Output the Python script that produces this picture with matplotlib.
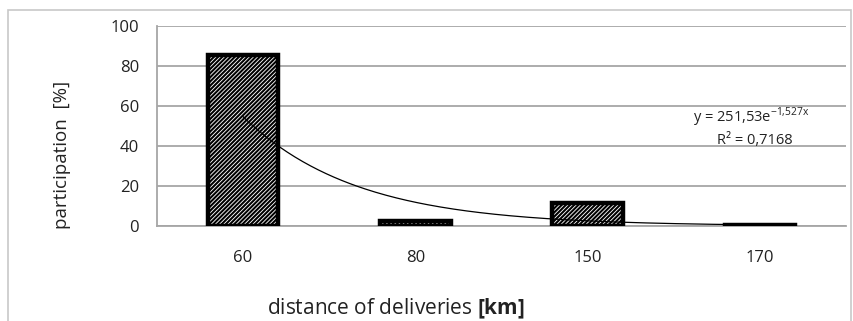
import numpy as np
import matplotlib
matplotlib.use("Agg")
import matplotlib.pyplot as plt
from matplotlib.patches import Rectangle

plt.rcParams['font.family'] = ['Open Sans', 'DejaVu Sans']
plt.rcParams['mathtext.fontset'] = 'custom'
plt.rcParams['mathtext.rm'] = 'Open Sans'
plt.rcParams['mathtext.bf'] = 'Open Sans:bold'
plt.rcParams['hatch.linewidth'] = 1.5

# data
distances = ["60", "80", "150", "170"]
participation = [85.5, 2.5, 11.5, 0.5]
# exponential trend line as printed on the chart
trend_a = 251.53
trend_b = -1.527
trend_eq = "y = 251,53e$^{\\mathregular{-1{,}527x}}$"
trend_r2 = "R² = 0,7168"

fig = plt.figure(figsize=(8.54, 3.21), dpi=100)
fig.patches.append(Rectangle((8 / 854, -0.05), 843 / 854, 1.05 - 10 / 321,
                             transform=fig.transFigure, fill=False,
                             edgecolor="#c8c8c8", linewidth=1.2))

ax = fig.add_axes([157 / 854, 1 - 226 / 321, 689 / 854, 200 / 321])
x = np.arange(len(distances))
ax.bar(x, participation, width=0.41, color="white", edgecolor="black",
       linewidth=3.2, hatch="////////", zorder=3)

xs = np.linspace(1, len(distances), 200)
ax.plot(xs - 1, trend_a * np.exp(trend_b * xs), color="black", linewidth=0.9, zorder=4)

ax.set_xlim(-0.5, len(distances) - 0.5)
ax.set_ylim(0, 100)
ax.set_yticks(range(0, 101, 20))
ax.set_xticks(x)
ax.set_xticklabels(distances)
ax.yaxis.grid(True, color="#a6a6a6", linewidth=1.3, zorder=0)
ax.tick_params(length=0, labelsize=12, colors="#222222")
ax.tick_params(axis="y", pad=13)
ax.tick_params(axis="x", pad=17)
for s in ["top", "right"]:
    ax.spines[s].set_visible(False)
ax.spines["left"].set_color("#a6a6a6")
ax.spines["bottom"].set_color("#a6a6a6")
ax.spines["left"].set_linewidth(1.3)
ax.spines["bottom"].set_linewidth(1.3)

ax.text(2.95, 54.5, trend_eq, fontsize=10.5, ha="center", va="center", color="#222222")
ax.text(2.97, 42.5, trend_r2, fontsize=10.5, ha="center", va="center", color="#222222")

fig.text(62 / 854, 1 - 155 / 321, "participation  [%]", rotation=90,
         ha="center", va="center", fontsize=13.5, color="#222222")
fig.text(396 / 854, 1 - 309 / 321, "distance of deliveries $\\mathbf{[km]}$",
         ha="center", va="center", fontsize=15, color="#222222")

fig.savefig("out.png", dpi=100)
